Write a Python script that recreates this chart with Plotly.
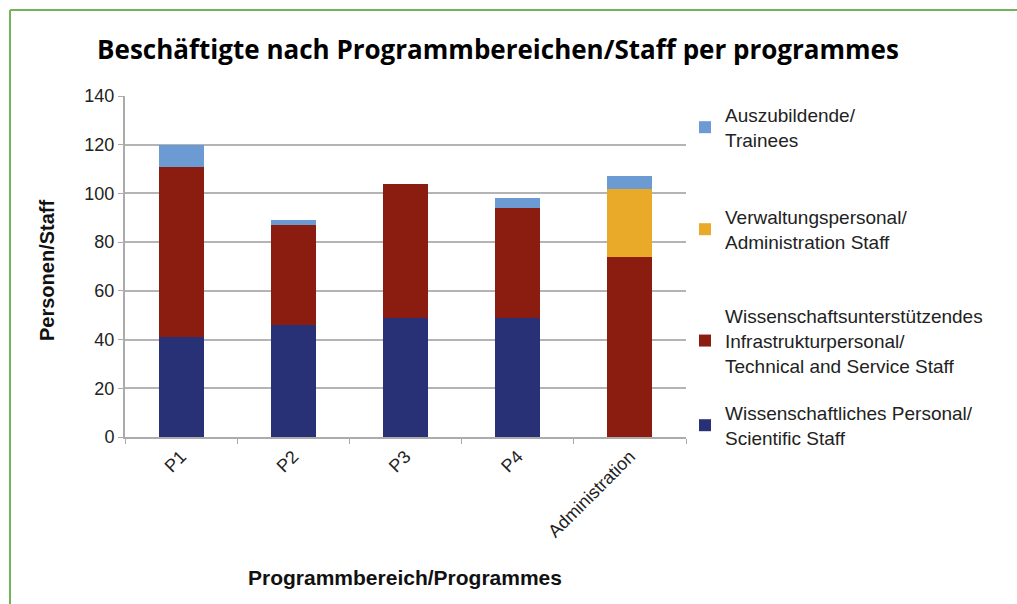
import plotly.graph_objects as go

# categories and stacked series (persons)
categories = ["P1", "P2", "P3", "P4", "Administration"]
scientific = [41, 46, 49, 49, 0]
technical = [70, 41, 55, 45, 74]
admin_staff = [0, 0, 0, 0, 28]
trainees = [9, 2, 0, 4, 5]

series_names = [
    "Wissenschaftliches Personal/<br>Scientific Staff",
    "Wissenschaftsunterstützendes<br>Infrastrukturpersonal/<br>Technical and Service Staff",
    "Verwaltungspersonal/<br>Administration Staff",
    "Auszubildende/<br>Trainees",
]
series_values = [scientific, technical, admin_staff, trainees]
colors = ["#283176", "#8a1d10", "#e8aa28", "#6b9bd2"]
legend_ids = ["legend4", "legend3", "legend2", "legend"]

W, H = 1017, 604
L, R, T, B = 125, 686, 96, 437  # plot area in pixels


def px_x(px):
    return (px - L) / (R - L)


def px_y(py):
    return (B - py) / (B - T)


fig = go.Figure()
for name, vals, col, lg in zip(series_names, series_values, colors, legend_ids):
    fig.add_trace(go.Bar(x=categories, y=vals, name=name, marker_color=col,
                         marker_line_width=0, legend=lg))

font_main = "Liberation Sans, Arial, sans-serif"
legend_font = dict(family=font_main, size=19, color="#222222")
legend_tops = [96, 198, 297, 394]
legends = {}
for lg, top in zip(["legend", "legend2", "legend3", "legend4"], legend_tops):
    legends[lg] = dict(x=px_x(685), y=px_y(top), xanchor="left", yanchor="top",
                       font=legend_font, bgcolor="rgba(0,0,0,0)", itemclick=False,
                       itemwidth=30)

fig.update_layout(
    width=W, height=H,
    margin=dict(l=L, r=W - R, t=T, b=H - B),
    paper_bgcolor="white", plot_bgcolor="white",
    showlegend=True,
    barmode="stack", bargap=0.6,
    title=dict(text="<b>Beschäftigte nach Programmbereichen/Staff per programmes</b>",
               x=498 / W, y=1 - 50 / H, xanchor="center", yanchor="middle",
               xref="container", yref="container",
               font=dict(family="Open Sans, sans-serif", size=26, color="black")),
    xaxis=dict(showline=True, linecolor="#ababab", linewidth=2,
               ticks="outside", tickson="boundaries", ticklen=5, tickcolor="#ababab",
               tickangle=-45, tickfont=dict(family=font_main, size=18, color="#222222")),
    yaxis=dict(range=[0, 140], dtick=20, showgrid=True, gridcolor="#b4b4b4", gridwidth=2,
               showline=True, linecolor="#ababab", linewidth=2, zeroline=False,
               ticks="outside", ticklen=5, tickcolor="#ababab",
               tickfont=dict(family=font_main, size=18, color="#222222")),
    annotations=[
        dict(text="<b>Personen/Staff</b>", xref="paper", yref="paper",
             x=px_x(47), y=px_y(271), xanchor="center", yanchor="middle",
             textangle=-90, showarrow=False,
             font=dict(family=font_main, size=20, color="#111111")),
        dict(text="<b>Programmbereich/Programmes</b>", xref="paper", yref="paper",
             x=px_x(405), y=px_y(577), xanchor="center", yanchor="middle",
             showarrow=False,
             font=dict(family=font_main, size=21, color="#111111")),
    ],
    shapes=[
        dict(type="line", xref="paper", yref="paper", x0=px_x(10), x1=px_x(W + 5),
             y0=px_y(10), y1=px_y(10), line=dict(color="#72b35c", width=2)),
        dict(type="line", xref="paper", yref="paper", x0=px_x(10), x1=px_x(10),
             y0=px_y(10), y1=px_y(H + 5), line=dict(color="#72b35c", width=2)),
    ],
    **legends,
)

fig.write_html("out.html", config={"displayModeBar": False},
               post_script="document.body.style.margin='0px';")
